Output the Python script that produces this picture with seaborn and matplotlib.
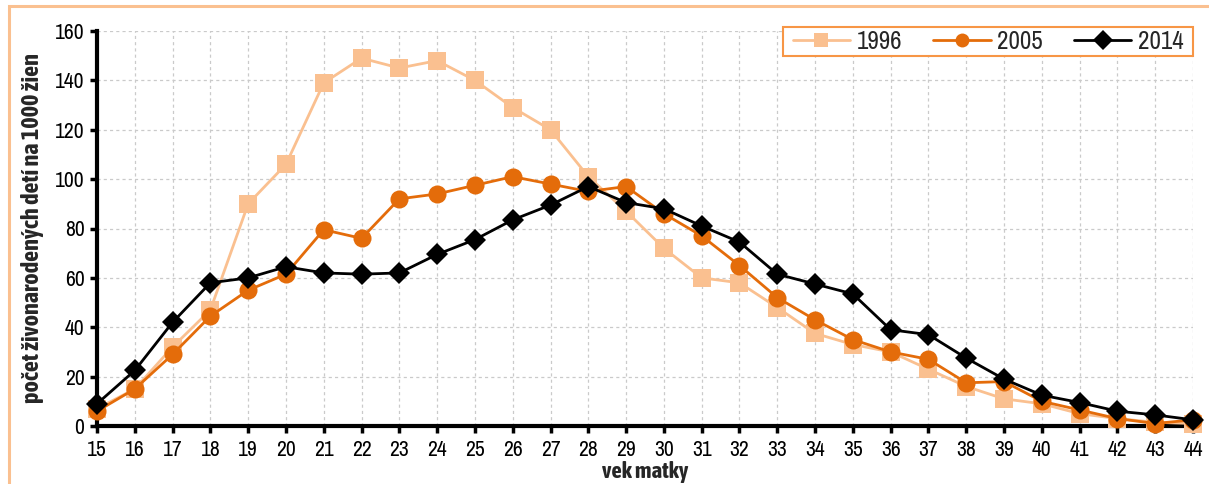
import numpy as np
import pandas as pd
import matplotlib
matplotlib.use("Agg")
import matplotlib.pyplot as plt
import seaborn as sns
from matplotlib.patches import Rectangle
from matplotlib import font_manager

ages = list(range(15, 45))
v1996 = [7, 15, 32, 47, 90, 106, 139, 149, 145, 148, 140, 129, 120, 101, 87, 72,
         60, 58, 48, 37.5, 33, 30, 23, 16, 11, 9, 5, 3, 1.5, 1]
v2005 = [6, 15, 29, 44.5, 55, 61.5, 79.5, 76, 92, 94, 97.5, 101, 98, 95, 97, 86,
         77, 65, 52, 43, 35, 30, 27, 17.5, 18, 10, 6.5, 3, 1, 2.5]
v2014 = [9, 22.5, 42, 58, 60, 64.5, 62, 61.5, 62, 69.5, 75.5, 83.5, 89.5, 97, 90.5, 88,
         81, 74.5, 61.5, 57.5, 53.5, 39, 37, 27.5, 19, 12.5, 9.5, 6, 4.5, 2.5]
series_names = ["1996", "2005", "2014"]
yticks = list(range(0, 161, 20))
xlabel = "vek matky"
ylabel = "počet živonarodených detí na 1000 žien"

sns.set_theme(style="white")

# pick a narrow/condensed family, preferably one with a bold face
entries = font_manager.fontManager.ttflist
cond = sorted({f.name for f in entries if ("Narrow" in f.name or "Condensed" in f.name)})
chosen, chosen_bold = None, None
for n in cond:
    ws = [f.weight for f in entries if f.name == n]
    ws = [w if isinstance(w, int) else 400 for w in ws]
    if chosen is None:
        chosen = n
    if any(w >= 600 for w in ws):
        chosen_bold = n
        break
if chosen is None:
    chosen = "Liberation Sans"
if chosen_bold is None:
    chosen_bold = chosen
plt.rcParams['font.family'] = [chosen, 'Liberation Sans', 'DejaVu Sans']
bold_family = [chosen_bold, 'Liberation Sans', 'DejaVu Sans']

fig = plt.figure(figsize=(12.09, 4.84), dpi=100)
W, H = 1209, 484
ax = fig.add_axes([97 / W, 1 - 426 / H, (1193 - 97) / W, (426 - 31) / H])

fig.patches.append(Rectangle((9 / W, -0.1), 1.2, (H - 6) / H + 0.1, transform=fig.transFigure,
                             fill=False, edgecolor="#FAC090", linewidth=2.2, zorder=0))

df = pd.DataFrame({"age": ages * 3,
                   "value": v1996 + v2005 + v2014,
                   "year": sum([[n] * len(ages) for n in series_names], [])})

styles = {
    "1996": dict(color="#FAC090", marker="s", ms=12.5),
    "2005": dict(color="#E46C0A", marker="o", ms=13),
    "2014": dict(color="#000000", marker="D", ms=11),
}
for i, name in enumerate(series_names):
    st = styles[name]
    sns.lineplot(data=df[df.year == name], x="age", y="value", ax=ax, color=st["color"],
                 marker=st["marker"], markersize=st["ms"], markeredgewidth=0,
                 linewidth=2, label=name, zorder=3 + i, legend=False)

tick_fs = 15.5
ax.set_xlim(15, 44)
ax.set_ylim(0, 160)
ax.set_xticks(ages)
ax.set_yticks(yticks)
ax.grid(True, linestyle=(0, (2.5, 2.5)), color="#CACACA", linewidth=0.9)
for s in ["top", "right"]:
    ax.spines[s].set_visible(False)
for s in ["left", "bottom"]:
    ax.spines[s].set_color("black")
    ax.spines[s].set_linewidth(3)
    ax.spines[s].set_zorder(2)
ax.tick_params(axis="both", which="both", direction="out", length=5, width=2.5,
               colors="black", labelsize=tick_fs, bottom=True, left=True)
ax.tick_params(axis="x", pad=5)
ax.tick_params(axis="y", pad=4)
ax.set_xlabel(xlabel, fontsize=16.5, fontweight="bold", family=bold_family, labelpad=1)
ax.set_ylabel(ylabel, fontsize=17.5, fontweight="bold", family=bold_family, labelpad=8)
for ln in ax.lines:
    ln.set_clip_on(False)

# legend box
bx0, by0, bx1, by1 = 783, 27, 1193, 56
fig.patches.append(Rectangle((bx0 / W, 1 - by1 / H), (bx1 - bx0) / W, (by1 - by0) / H,
                             transform=fig.transFigure, facecolor="white",
                             edgecolor="#F79646", linewidth=1.5, zorder=20))
handles = ax.get_lines()[:3]
leg = fig.legend(handles, series_names, loc="center",
                 bbox_to_anchor=((bx0 + bx1) / 2 / W, 1 - (by0 + by1) / 2 / H),
                 bbox_transform=fig.transFigure, ncol=3, frameon=False,
                 fontsize=18, handlelength=2.3, columnspacing=1.25, handletextpad=0.25,
                 borderpad=0, borderaxespad=0)
leg.set_zorder(25)
for h in leg.legend_handles:
    h.set_markersize(10)

fig.savefig("out.png", dpi=100)
